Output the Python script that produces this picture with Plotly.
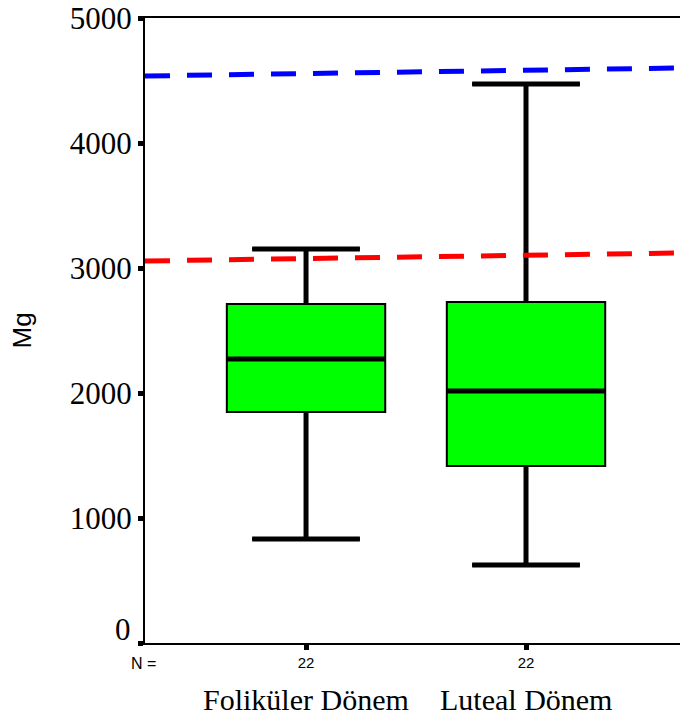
import plotly.graph_objects as go

# ---- data ----
groups = ["Foliküler Dönem", "Luteal Dönem"]
n_counts = ["22", "22"]
q1 = [1848, 1416]
median = [2272, 2016]
q3 = [2712, 2728]
lower_whisker = [832, 624]
upper_whisker = [3152, 4472]
ref_red = [3056, 3120]    # dashed red reference line (left, right)
ref_blue = [4536, 4600]   # dashed blue reference line (left, right)
y_ticks = [0, 1000, 2000, 3000, 4000, 5000]

# ---- layout constants ----
xpos = list(range(len(groups)))
x_range = [-0.732, 1.70]
box_w = 0.72
cap_w = 0.49
serif = "Liberation Serif, Times New Roman, serif"
sans = "Liberation Sans, Arial, sans-serif"

fig = go.Figure()

fig.add_trace(go.Box(
    x=xpos, q1=q1, median=median, q3=q3,
    lowerfence=lower_whisker, upperfence=upper_whisker,
    width=box_w, whiskerwidth=cap_w / box_w,
    fillcolor="#00FF00", line=dict(color="black", width=2),
    boxpoints=False, hoverinfo="skip", showlegend=False,
))

# thick whiskers, caps and medians
wx, wy, cx, cy, mx, my = [], [], [], [], [], []
for i, x in enumerate(xpos):
    wx += [x, x, None, x, x, None]
    wy += [q3[i], upper_whisker[i], None, q1[i], lower_whisker[i], None]
    cx += [x - cap_w / 2, x + cap_w / 2, None, x - cap_w / 2, x + cap_w / 2, None]
    cy += [upper_whisker[i], upper_whisker[i], None, lower_whisker[i], lower_whisker[i], None]
    mx += [x - box_w / 2, x + box_w / 2, None]
    my += [median[i], median[i], None]

fig.add_trace(go.Scatter(x=wx, y=wy, mode="lines", line=dict(color="black", width=5),
                         showlegend=False, hoverinfo="skip"))
fig.add_trace(go.Scatter(x=cx, y=cy, mode="lines", line=dict(color="black", width=5),
                         showlegend=False, hoverinfo="skip"))
fig.add_trace(go.Scatter(x=mx, y=my, mode="lines", line=dict(color="black", width=5),
                         showlegend=False, hoverinfo="skip"))

# reference lines
fig.add_trace(go.Scatter(x=x_range, y=ref_red, mode="lines",
                         line=dict(color="#FF0000", width=5, dash="25px,17px"),
                         showlegend=False, hoverinfo="skip"))
fig.add_trace(go.Scatter(x=x_range, y=ref_blue, mode="lines",
                         line=dict(color="#0000FF", width=5, dash="25px,17px"),
                         showlegend=False, hoverinfo="skip"))

fig.update_layout(
    width=680, height=724,
    margin=dict(l=145, r=0, t=18, b=81),
    paper_bgcolor="white", plot_bgcolor="white",
    showlegend=False,
    boxmode="overlay",
)

fig.update_xaxes(
    range=x_range, tickvals=xpos, ticktext=n_counts,
    showgrid=False, zeroline=False,
    showline=True, linecolor="black", linewidth=2, mirror=True,
    ticks="outside", ticklen=5, tickwidth=5, tickcolor="black",
    tickfont=dict(family=sans, size=15, color="black"),
)
fig.update_yaxes(
    range=[0, 5000], tickvals=y_ticks,
    ticktext=["" if v == 0 else str(v) for v in y_ticks],
    showgrid=False, zeroline=False,
    showline=True, linecolor="black", linewidth=2,
    ticks="outside", ticklen=5, tickwidth=5, tickcolor="black",
    tickfont=dict(family=serif, size=31, color="black"),
)

annotations = [
    dict(text="0", x=0, xref="paper", y=0, yref="y", xanchor="right", yanchor="middle",
         xshift=-12, yshift=14, showarrow=False, font=dict(family=serif, size=31, color="black")),
    dict(text="Mg", x=-0.23, xref="paper", y=0.5, yref="paper", textangle=-90,
         xanchor="center", yanchor="middle",
         showarrow=False, font=dict(family=sans, size=26, color="black")),
    dict(text="N =", x=-0.002, xref="paper", y=-0.032, yref="paper",
         xanchor="center", yanchor="middle", showarrow=False,
         font=dict(family=sans, size=16, color="black")),
]
for i, g in enumerate(groups):
    annotations.append(dict(text=g, x=xpos[i], xref="x", y=-0.091, yref="paper",
                            xanchor="center", yanchor="middle", showarrow=False,
                            font=dict(family=serif, size=30, color="black")))
fig.update_layout(annotations=annotations)

fig.write_html("out.html", config={"displayModeBar": False},
               post_script="document.body.style.margin='0';")
